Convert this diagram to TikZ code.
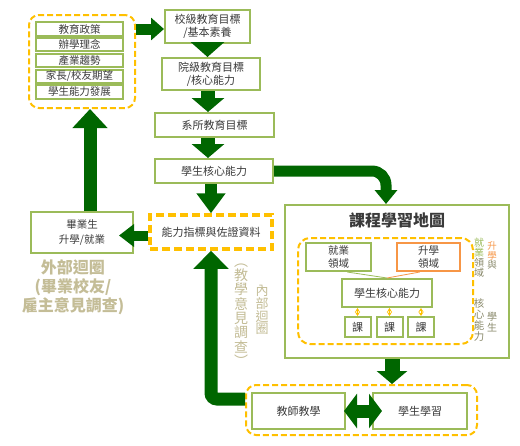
\documentclass[tikz,border=0pt]{standalone}
\usepackage{fontspec}
\setmainfont{Noto Sans CJK TC}
\usetikzlibrary{arrows.meta,calc}
\definecolor{dgreen}{HTML}{006600}
\definecolor{lgreen}{HTML}{9BBB59}
\definecolor{gold}{HTML}{FFC000}
\definecolor{orng}{HTML}{F79646}
\definecolor{tanc}{HTML}{C4BD97}
\definecolor{txt}{HTML}{3A3A3A}
\definecolor{olivegray}{HTML}{8A8A6C}
\tikzset{
  box/.style={draw=lgreen, line width=2pt, fill=white, inner sep=0pt, align=center,
    text=txt, font=\fontsize{11}{13}\selectfont},
  obox/.style={box, draw=orng},
  dbox/.style={draw=gold, line width=2pt, dash pattern=on 6pt off 3pt,
    rounded corners=10pt, inner sep=0pt},
  bigarr/.style n args={3}{draw=dgreen, line width=#1,
    -{Triangle[width=#2,length=#3]}},
  dblarr/.style n args={3}{draw=dgreen, line width=#1,
    {Triangle[width=#2,length=#3]}-{Triangle[width=#2,length=#3]}},
  smallarr/.style={draw=gold, line width=1pt,
    {Stealth[length=4pt,width=5pt]}-{Stealth[length=4pt,width=5pt]}},
  vtan/.style={text=tanc, align=center, inner sep=0pt},
  vsmall/.style={text=olivegray, align=center, inner sep=0pt},
}
\begin{document}
\begin{tikzpicture}[x=1pt,y=-1pt]
\useasboundingbox (0,0) rectangle (520,445);
\fill[white] (0,0) rectangle (520,445);

% left dashed group
\node[dbox, minimum width=106pt, minimum height=93pt] (leftdash) at (82,61.5) {};
\node[box, minimum width=87pt, minimum height=13.5pt, font=\fontsize{10.5}{12}\selectfont] (l1) at (79.5,29) {教育政策};
\node[box, minimum width=87pt, minimum height=13.5pt, font=\fontsize{10.5}{12}\selectfont] (l2) at (79.5,44.7) {辦學理念};
\node[box, minimum width=87pt, minimum height=13.5pt, font=\fontsize{10.5}{12}\selectfont] (l3) at (79.5,60.5) {產業趨勢};
\node[box, minimum width=87pt, minimum height=13.5pt, font=\fontsize{10.5}{12}\selectfont] (l4) at (79.5,76.3) {家長/校友期望};
\node[box, minimum width=87pt, minimum height=13.5pt, font=\fontsize{10.5}{12}\selectfont] (l5) at (79.5,92) {學生能力發展};

% central column
\node[box, minimum width=85pt, minimum height=33pt] (xiao) at (207.5,26.5) {校級教育目標\\/基本素養};
\node[box, minimum width=98pt, minimum height=32pt] (yuan) at (211,74) {院級教育目標\\/核心能力};
\node[box, minimum width=119pt, minimum height=24pt] (xi) at (214.5,125) {系所教育目標};
\node[box, minimum width=118pt, minimum height=24pt] (core1) at (214,171) {學生核心能力};
\node[draw=gold, line width=3.5pt, dash pattern=on 8pt off 4pt, fill=white, inner sep=0pt,
  minimum width=122pt, minimum height=34pt, text=txt, font=\fontsize{11}{13}\selectfont] (zhibiao) at (211,232) {能力指標與佐證資料};
\node[box, minimum width=102pt, minimum height=41pt, font=\fontsize{10.5}{15}\selectfont] (grad) at (82,232.5) {畢業生\\升學/就業};

% outer loop label
\node[text=tanc, align=center, inner sep=0pt, font=\fontsize{16}{19}\selectfont\bfseries] (outer) at (73,287) {外部迴圈\\(畢業校友/\\雇主意見調查)};

% inner loop labels
\node[vtan, font=\fontsize{14}{14.3}\selectfont] (vt1) at (241,315) {︵\\教\\學\\意\\見\\調\\查\\︶};
\node[vtan, font=\fontsize{13}{12.7}\selectfont] (vt2) at (262,310) {內\\部\\迴\\圈};

% curriculum map
\node[box, minimum width=224pt, minimum height=153pt] (map) at (397,281.5) {};
\node[text=txt, inner sep=0pt, font=\fontsize{16}{18}\selectfont\bfseries] (title) at (397,220) {課程學習地圖};
\node[dbox, rounded corners=12pt, minimum width=175pt, minimum height=106pt] (indash) at (385.5,291) {};
\node[box, minimum width=65pt, minimum height=28pt, font=\fontsize{10.5}{13}\selectfont] (jiuye) at (338.5,257) {就業\\領域};
\node[obox, minimum width=63pt, minimum height=28pt, font=\fontsize{10.5}{13}\selectfont] (shengxue) at (428.5,257) {升學\\領域};
\node[box, minimum width=90pt, minimum height=28pt] (core2) at (387,293) {學生核心能力};
\node[box, minimum width=26pt, minimum height=20pt] (k1) at (357.5,327) {課};
\node[box, minimum width=26pt, minimum height=20pt] (k2) at (389.5,327) {課};
\node[box, minimum width=26pt, minimum height=20pt] (k3) at (421,327) {課};
\draw[lgreen, line width=0.8pt] (jiuye.-60) -- (core2.north);
\draw[orng, line width=0.8pt] (shengxue.-120) -- (core2.north);
\foreach \k in {k1,k2,k3}{
  \draw[smallarr] (core2.south -| \k.north) -- (\k.north);
}
\node[vsmall, font=\fontsize{9.5}{9.5}\selectfont] (vs1) at (492,255.5) {\textcolor{orng}{升}\\\textcolor{orng}{學}\\與};
\node[vsmall, font=\fontsize{10}{10}\selectfont] (vs2) at (479,257.5) {\textcolor{lgreen}{就}\\\textcolor{lgreen}{業}\\領\\域};
\node[vsmall, font=\fontsize{10.5}{11}\selectfont] (vs3) at (479,320) {核\\心\\能\\力};
\node[vsmall, font=\fontsize{10}{10.5}\selectfont] (vs4) at (492,322) {學\\生};

% bottom group
\node[dbox, minimum width=231pt, minimum height=50pt] (bottomdash) at (361.5,410) {};
\node[box, minimum width=93pt, minimum height=36pt] (teach) at (298.5,411) {教師教學};
\node[box, minimum width=94pt, minimum height=36pt] (learn) at (420,411) {學生學習};

% coordinates for arrow columns
\coordinate (colx) at (208,0);
\coordinate (upx) at (90,0);
\coordinate (a1) at ($(xiao.west)+(0,2.5)$);
\coordinate (maptop) at ($(map.north)+(-11,0)$);
\coordinate (mapbot) at ($(map.south)+(-5,0)$);
\coordinate (loopstart) at ($(bottomdash.west)+(0,-11)$);
\coordinate (gradin) at ($(grad.east)+(-15,3)$);
\coordinate (dblL) at ($(teach.east)+(-2,0)$);
\coordinate (dblR) at ($(learn.west)+(10,0)$);

% big arrows
\draw[bigarr={11pt}{22pt}{13pt}] (leftdash.east |- a1) -- (a1);
\draw[bigarr={14pt}{33pt}{15pt}] (xiao.south) -- (xiao.south |- yuan.north);
\draw[bigarr={14pt}{32pt}{14pt}] (colx |- yuan.south) -- (colx |- xi.north);
\draw[bigarr={14pt}{32pt}{14pt}] (colx |- xi.south) -- (colx |- core1.north);
\draw[bigarr={12pt}{28pt}{20pt}] (zhibiao.north |- core1.south) -- (zhibiao.north);
\draw[bigarr={11pt}{22pt}{14pt}, rounded corners=14pt] (core1.east) -| (maptop);
\draw[bigarr={10pt}{22pt}{15pt}] (zhibiao.west |- gradin) -- (gradin);
\draw[bigarr={13pt}{34pt}{19pt}] (upx |- grad.north) -- (upx |- leftdash.south);
\draw[bigarr={13pt}{34pt}{18pt}, rounded corners=6pt] (loopstart) -| (zhibiao.south);
\draw[bigarr={15pt}{30pt}{13pt}] (mapbot) -- (mapbot |- bottomdash.north);
\draw[dblarr={13pt}{34pt}{13pt}] (dblL) -- (dblR);
\end{tikzpicture}
\end{document}
